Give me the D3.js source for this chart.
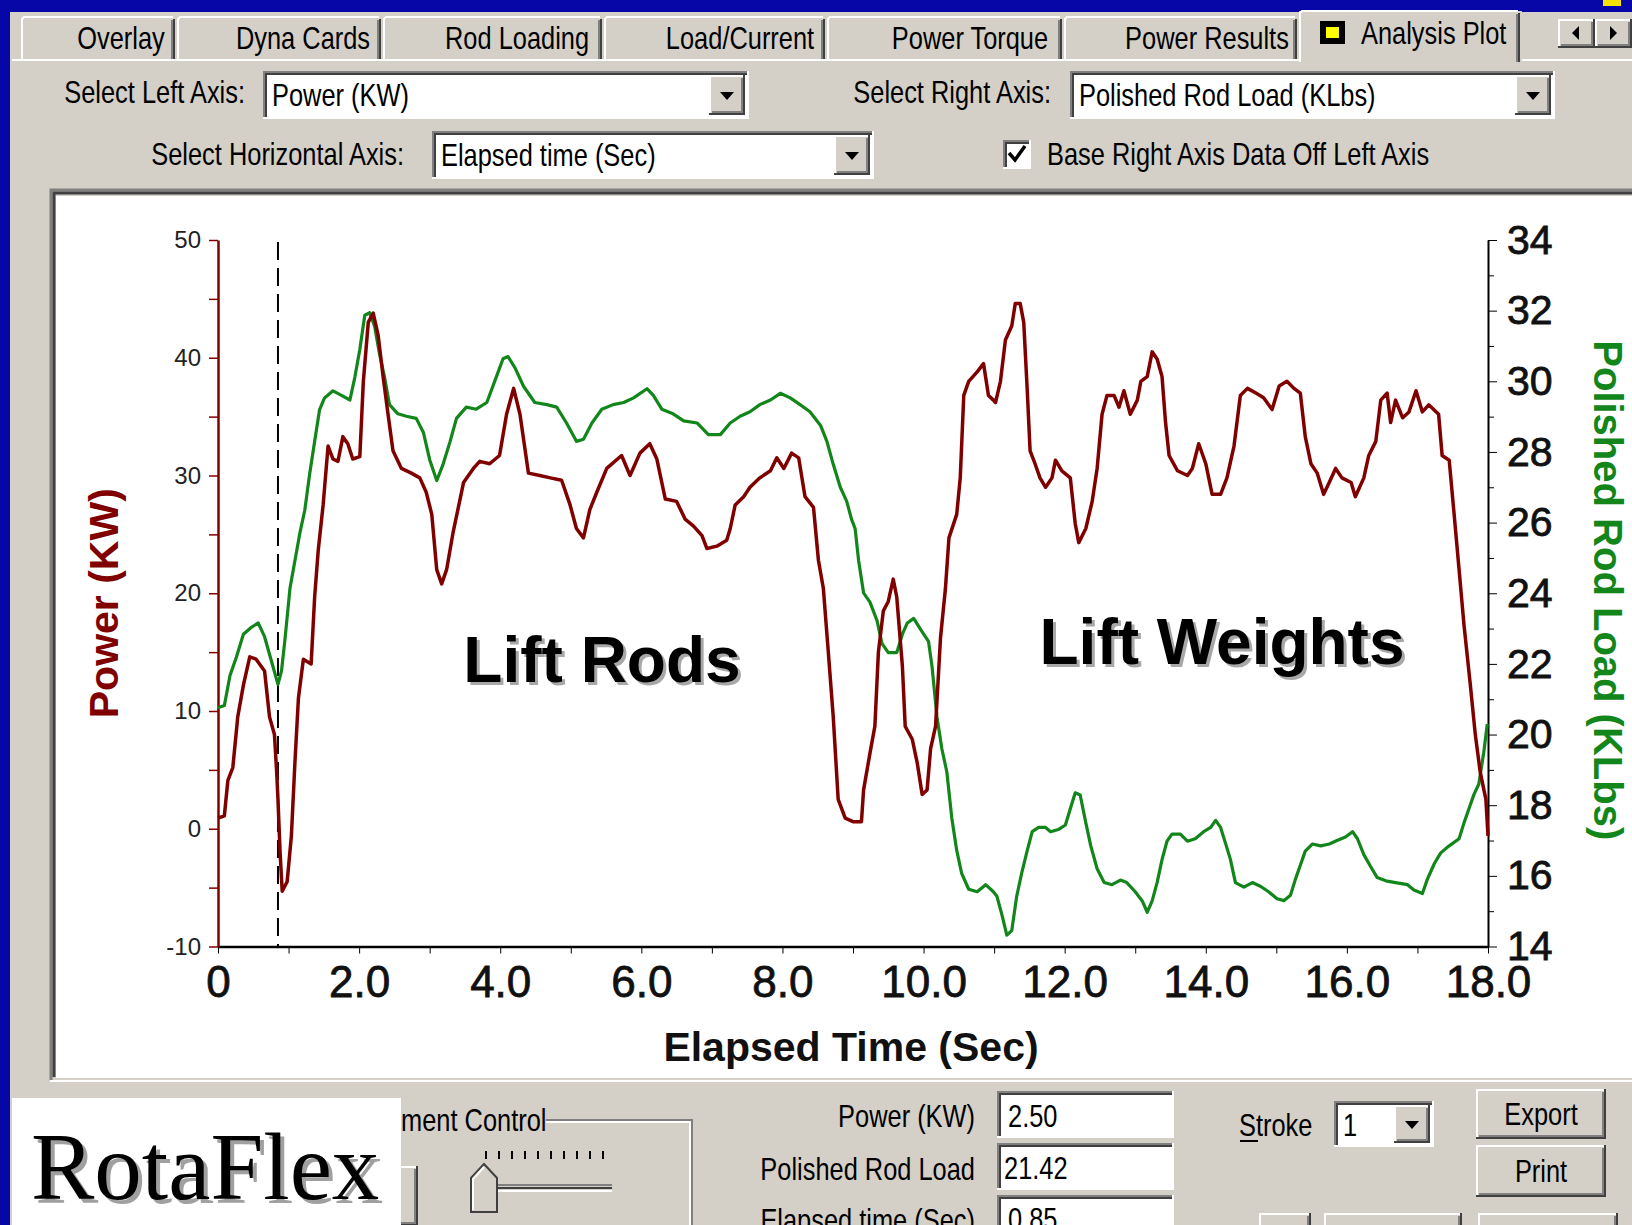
<!DOCTYPE html>
<html>
<head>
<meta charset="utf-8">
<script src="https://cdn.jsdelivr.net/npm/d3@7"></script>
<style>
body { margin: 0; background: #d4d0c8; overflow: hidden; }
</style>
</head>
<body>
<script>
// ---- chart data ----
const powerTime = [0, 0.09, 0.14, 0.21, 0.28, 0.36, 0.45, 0.54, 0.66, 0.73, 0.8, 0.83, 0.85, 0.88, 0.91, 0.98, 1.04, 1.09, 1.14, 1.21, 1.32, 1.37, 1.42, 1.49, 1.56, 1.63, 1.7, 1.77, 1.84, 1.91, 2.01, 2.06, 2.13, 2.2, 2.27, 2.34, 2.41, 2.48, 2.6, 2.74, 2.86, 2.95, 3.03, 3.1, 3.17, 3.24, 3.33, 3.48, 3.62,
    3.71, 3.85, 3.99, 4.09, 4.19, 4.28, 4.4, 4.56, 4.71, 4.87, 4.99, 5.08, 5.18, 5.27, 5.37, 5.51, 5.72, 5.84, 5.98, 6.12, 6.22, 6.34, 6.5, 6.62, 6.74, 6.86, 6.93, 7.07, 7.21, 7.26, 7.33,
    7.45, 7.54, 7.68, 7.83, 7.92, 8.02, 8.13, 8.23, 8.32, 8.44, 8.51, 8.58, 8.65, 8.72, 8.79, 8.89, 9.0, 9.12, 9.15, 9.24, 9.31, 9.36, 9.43, 9.5, 9.57, 9.62, 9.7, 9.74, 9.84, 9.91, 9.98, 10.05, 10.1, 10.17, 10.24, 10.31, 10.36, 10.47, 10.52, 10.57, 10.64, 10.76, 10.85, 10.92, 10.99,
    11.02, 11.09, 11.16, 11.25, 11.3, 11.37, 11.42, 11.47, 11.51, 11.58, 11.65, 11.73, 11.82, 11.87, 11.96, 12.08, 12.15, 12.2, 12.3, 12.39, 12.46, 12.53, 12.6, 12.7, 12.77, 12.84, 12.93, 13.03, 13.08, 13.17, 13.24, 13.31, 13.38, 13.43, 13.48, 13.6, 13.74, 13.81, 13.9, 14.0, 14.09, 14.21, 14.3, 14.4, 14.49,
    14.59, 14.71, 14.82, 14.94, 15.04, 15.15, 15.25, 15.34, 15.41, 15.49, 15.58, 15.67, 15.75, 15.84, 15.93, 16.06, 16.12, 16.24, 16.31, 16.41, 16.48, 16.57, 16.62, 16.69, 16.79, 16.88, 16.98, 17.07, 17.16, 17.3, 17.35, 17.45, 17.52, 17.59, 17.66, 17.75, 17.82, 17.89, 17.97, 18.0];
const powerKW = [0.9, 1.1, 4.1, 5.2, 9.5, 12.2, 14.6, 14.4, 13.4, 9.5, 8, 5, 2.5, -2, -5.3, -4.5, -0.6, 5.6, 11.1, 14.4, 14, 19.7, 23.6, 27.5, 32.5, 31.4, 31.2, 33.3, 32.7, 31.4, 31.6, 38, 43, 43.8, 41.9, 38.4, 35.2, 32.1, 30.6, 30.2, 29.8, 28.6, 26.7, 22, 20.8, 22, 25.1, 29.4, 30.6,
    31.2, 31, 31.7, 35.2, 37.4, 35.2, 30.2, 30, 29.8, 29.6, 27.5, 25.5, 24.7, 27.1, 28.6, 30.6, 31.7, 30, 31.9, 32.7, 31.4, 28, 27.8, 26.3, 25.7, 24.9, 23.8, 24, 24.5, 25.5, 27.5,
    28.2, 29, 29.8, 30.4, 31.5, 30.6, 31.9, 31.5, 28.2, 27.3, 22.8, 20.4, 15, 9.5, 2.5, 0.9, 0.6, 0.6, 3.3, 6.4, 8.7, 15, 18.5, 19.3, 21.2, 19.7, 13.8, 8.7, 7.6, 5.6, 2.9, 3.3, 6.8, 8.7, 16.2, 20.4, 24.7, 26.7, 29.8, 36.8, 38, 38.8, 39.5, 36.8, 36.4,
    36.2, 38, 41.5, 42.7, 44.6, 44.6, 43, 37.2, 32.1, 31, 29.8, 29, 29.8, 31.3, 30.4, 29.8, 25.9, 24.3, 25.5, 27.8, 30.6, 35.2, 36.8, 36.8, 35.8, 37.2, 35.2, 36.4, 38, 38.4, 40.5, 39.9, 38.4, 34.5, 31.7, 30.4, 30, 30.6, 32.7, 31, 28.4, 28.4, 29.8, 32.5, 36.8,
    37.4, 37, 36.6, 35.6, 37.6, 38, 37.4, 37, 33.3, 31, 30.2, 28.4, 29.4, 30.6, 29.8, 29.4, 28.2, 29.8, 31.7, 32.9, 36.4, 37, 34.5, 36.4, 34.9, 35.4, 37.2, 35.4, 36, 35.2, 31.7, 31.3, 26.7, 22, 17.3, 12.2, 8, 4.8, 2.5, -0.6];

const loadTime = [0, 0.09, 0.17, 0.26, 0.36, 0.47, 0.57, 0.66, 0.76, 0.85, 0.9, 0.95, 1.02, 1.09, 1.16, 1.23, 1.3, 1.37, 1.44, 1.51, 1.63, 1.75, 1.87, 1.94, 2.01, 2.08, 2.15, 2.22, 2.29, 2.36, 2.43, 2.55, 2.67, 2.81, 2.91, 3.0, 3.1, 3.19, 3.29, 3.38, 3.52,
    3.66, 3.81, 3.92, 4.04, 4.11, 4.21, 4.33, 4.49, 4.66, 4.8, 4.94, 5.08, 5.18, 5.3, 5.44, 5.6, 5.75, 5.89, 6.08, 6.17, 6.29, 6.45, 6.6, 6.79, 6.95, 7.12, 7.26,
    7.4, 7.54, 7.68, 7.83, 7.97, 8.11, 8.25, 8.39, 8.54, 8.63, 8.72, 8.82, 8.91, 8.98, 9.03, 9.08, 9.15, 9.24, 9.34, 9.41, 9.5, 9.62, 9.7, 9.77, 9.86, 9.96, 10.07, 10.12, 10.19, 10.26, 10.33, 10.4, 10.47, 10.54, 10.64, 10.76, 10.88, 10.99,
    11.04, 11.11, 11.18, 11.25, 11.32, 11.39, 11.47, 11.54, 11.63, 11.73, 11.8, 11.91, 12.01, 12.08, 12.15, 12.22, 12.3, 12.37, 12.46, 12.56, 12.67, 12.79, 12.88, 13.0, 13.1, 13.17, 13.24, 13.31, 13.38, 13.45, 13.52, 13.64, 13.74, 13.85, 13.97, 14.07, 14.14, 14.21, 14.28, 14.35, 14.42, 14.54, 14.66,
    14.78, 14.89, 15.01, 15.11, 15.2, 15.27, 15.34, 15.41, 15.51, 15.63, 15.75, 15.86, 15.98, 16.08, 16.15, 16.24, 16.34, 16.43, 16.57, 16.71, 16.86, 16.95, 17.07, 17.14, 17.24, 17.33, 17.45, 17.59, 17.66, 17.73, 17.8, 17.87, 17.94, 17.99];
const rodLoadKLbs = [20.76, 20.82, 21.67, 22.19, 22.84, 23.03, 23.16, 22.77, 22.06, 21.42, 21.8, 22.71, 24.14, 24.92, 25.7, 26.35, 27.39, 28.3, 29.2, 29.53, 29.73, 29.6, 29.47, 30.12, 30.9, 31.87, 31.94, 31.55, 30.77, 30.12, 29.34, 29.08, 29.01, 28.95, 28.56, 27.78, 27.19, 27.65, 28.3, 28.95, 29.27,
    29.21, 29.4, 29.99, 30.64, 30.7, 30.38, 29.86, 29.4, 29.34, 29.27, 28.82, 28.3, 28.36, 28.82, 29.21, 29.34, 29.4, 29.53, 29.79, 29.6, 29.21, 29.08, 28.88, 28.82, 28.49, 28.49, 28.82,
    29.01, 29.14, 29.34, 29.47, 29.66, 29.53, 29.34, 29.14, 28.75, 28.3, 27.65, 27.0, 26.61, 26.09, 25.83, 24.92, 24.01, 23.75, 23.23, 22.58, 22.32, 22.32, 22.84, 23.16, 23.29, 22.97, 22.64, 21.93, 20.5, 19.59, 18.94, 17.64, 16.72, 16.07, 15.62, 15.55, 15.75, 15.55,
    15.42, 14.9, 14.32, 14.45, 15.42, 16.07, 16.72, 17.25, 17.37, 17.37, 17.25, 17.31, 17.44, 17.9, 18.35, 18.29, 17.5, 16.85, 16.2, 15.81, 15.75, 15.88, 15.81, 15.55, 15.29, 14.97, 15.29, 15.81, 16.46, 16.98, 17.18, 17.18, 16.98, 17.05, 17.25, 17.37, 17.57, 17.37, 16.92, 16.46, 15.81, 15.68, 15.81,
    15.7, 15.55, 15.35, 15.3, 15.45, 15.9, 16.3, 16.7, 16.9, 16.85, 16.9, 17.0, 17.1, 17.25, 17.05, 16.6, 16.25, 15.95, 15.85, 15.8, 15.75, 15.6, 15.5, 15.9, 16.35, 16.65, 16.85, 17.05, 17.5, 17.9, 18.3, 18.6, 19.5, 20.3];

const xTicks = [0, 2, 4, 6, 8, 10, 12, 14, 16, 18];
const xTickLabels = ['0', '2.0', '4.0', '6.0', '8.0', '10.0', '12.0', '14.0', '16.0', '18.0'];
const xMinorTicks = [1, 3, 5, 7, 9, 11, 13, 15, 17];
const leftTicks = [-10, 0, 10, 20, 30, 40, 50];
const leftMinorTicks = [-5, 5, 15, 25, 35, 45];
const rightTicks = [14, 16, 18, 20, 22, 24, 26, 28, 30, 32, 34];
const rightMinorTicks = [15, 17, 19, 21, 23, 25, 27, 29, 31, 33];
const cursorTime = 0.85;

const tabNames = ['Overlay', 'Dyna Cards', 'Rod Loading', 'Load/Current', 'Power Torque', 'Power Results', 'Analysis Plot'];

const W = 1632, H = 1225;
const FACE = '#d4d0c8';
const RED = '#800000', GREEN = '#12861a';

const svg = d3.select('body').append('svg')
    .attr('width', W)
    .attr('height', H)
    .style('display', 'block');

// blue slide background, then the grey dialog
svg.append('rect').attr('width', W).attr('height', H).attr('fill', '#0707a8');
svg.append('rect').attr('x', 10).attr('y', 12).attr('width', W - 10).attr('height', H - 12).attr('fill', FACE);
svg.append('rect').attr('x', 1603).attr('y', 0).attr('width', 18).attr('height', 6).attr('fill', '#f4e400');

// ---- helpers for the windows chrome ----
function uiText(g, x, y, str, anchor, size) {
    return g.append('text')
        .attr('transform', `translate(${x},${y}) scale(0.82,1)`)
        .attr('text-anchor', anchor || 'start')
        .attr('font-family', 'Liberation Sans, Arial, sans-serif')
        .attr('font-size', size || 31)
        .attr('fill', '#000')
        .text(str);
}

function line(g, d, color, w) {
    g.append('path').attr('d', d).attr('fill', 'none').attr('stroke', color).attr('stroke-width', w || 2);
}

function sunken(g, x, y, w, h, fill) {
    g.append('rect').attr('x', x).attr('y', y).attr('width', w).attr('height', h).attr('fill', fill || '#fff');
    line(g, `M${x + 1},${y + h}V${y + 1}H${x + w}`, '#808080');
    line(g, `M${x + 3},${y + h - 2}V${y + 3}H${x + w - 2}`, '#404040');
    line(g, `M${x},${y + h - 1}H${x + w - 1}V${y}`, '#ffffff');
}

function raised(g, x, y, w, h) {
    g.append('rect').attr('x', x).attr('y', y).attr('width', w).attr('height', h).attr('fill', FACE);
    line(g, `M${x + 1},${y + h - 1}V${y + 1}H${x + w - 1}`, '#ffffff');
    line(g, `M${x},${y + h - 1}H${x + w - 1}V${y}`, '#404040');
    line(g, `M${x + 3},${y + h - 3}H${x + w - 3}V${y + 3}`, '#808080');
}

function dropButton(g, x, y, w, h) {
    raised(g, x, y, w, h);
    const cx = x + w / 2, cy = y + h / 2;
    g.append('path').attr('d', `M${cx - 7},${cy - 3}H${cx + 7}L${cx},${cy + 5}Z`).attr('fill', '#000');
}

function combo(g, x, y, w, h, str) {
    sunken(g, x, y, w, h);
    uiText(g, x + 9, y + h / 2 + 11, str);
    dropButton(g, x + w - 40, y + 4, 36, h - 8);
}

const ui = svg.append('g');

// ---- tab strip ----
const tabEdges = [21, 177, 383, 604, 827, 1064, 1299, 1522];
const tabCenters = [121, 303, 517, 740, 970, 1207];
line(ui, `M12,60H1299`, '#ffffff');
line(ui, `M1522,60H1632`, '#ffffff');
tabNames.forEach((name, i) => {
    const x0 = tabEdges[i], x1 = tabEdges[i + 1];
    const active = i === tabNames.length - 1;
    const top = active ? 11 : 17;
    const bottom = active ? 62 : 59;
    if (active) {
        ui.append('rect').attr('x', x0).attr('y', top).attr('width', x1 - x0).attr('height', bottom - top).attr('fill', FACE);
    }
    line(ui, `M${x0 + 1},${bottom}V${top + 2}L${x0 + 3},${top}H${x1 - 4}`, '#ffffff');
    line(ui, `M${x1 - 3},${top + 2}V${bottom}`, '#404040');
    line(ui, `M${x1 - 5},${top + 3}V${bottom}`, '#808080');
    if (active) {
        ui.append('rect').attr('x', 1320).attr('y', 21).attr('width', 25).attr('height', 23).attr('fill', '#000');
        ui.append('rect').attr('x', 1326).attr('y', 27).attr('width', 13).attr('height', 11).attr('fill', '#ffff00');
        uiText(ui, 1361, 44, name);
    } else {
        uiText(ui, tabCenters[i], 49, name, 'middle');
    }
});
[[1558, 'l'], [1595, 'r']].forEach(([bx, dir]) => {
    raised(ui, bx, 19, 37, 29);
    const cx = bx + 18, cy = 33;
    ui.append('path')
        .attr('d', dir === 'l' ? `M${cx + 3},${cy - 7}V${cy + 7}L${cx - 4},${cy}Z` : `M${cx - 3},${cy - 7}V${cy + 7}L${cx + 4},${cy}Z`)
        .attr('fill', '#000');
});

// ---- selector rows ----
uiText(ui, 245, 103, 'Select Left Axis:', 'end');
combo(ui, 263, 71, 486, 48, 'Power (KW)');
uiText(ui, 1051, 103, 'Select Right Axis:', 'end');
combo(ui, 1070, 71, 485, 48, 'Polished Rod Load (KLbs)');
uiText(ui, 404, 165, 'Select Horizontal Axis:', 'end');
combo(ui, 432, 131, 442, 48, 'Elapsed time (Sec)');
sunken(ui, 1003, 140, 28, 29);
ui.append('path').attr('d', 'M1009,153L1015,160L1025,146').attr('fill', 'none').attr('stroke', '#000').attr('stroke-width', 3.5);
uiText(ui, 1047, 165, 'Base Right Axis Data Off Left Axis');

// ---- chart panel ----
ui.append('rect').attr('x', 56).attr('y', 196).attr('width', W - 56).attr('height', 882).attr('fill', '#ffffff');
line(ui, `M51,1080V190H${W}`, '#808080', 3);
line(ui, `M54,1077V193H${W}`, '#404040', 3);
line(ui, `M50,1081H${W}`, '#ffffff', 2);

// ---- scales and axes ----
const x = d3.scaleLinear().domain([0, 18]).range([218, 1488]);
const y = d3.scaleLinear().domain([-10, 50]).range([946.5, 240]);
const yR = d3.scaleLinear().domain([14, 34]).range([946.5, 240]);

const plot = svg.append('g');

const gxMinor = plot.append('g')
    .attr('transform', `translate(0,${y(-10)})`)
    .call(d3.axisBottom(x).tickValues(xMinorTicks).tickFormat('').tickSize(7).tickSizeOuter(0));
gxMinor.select('.domain').remove();

const gx = plot.append('g')
    .attr('transform', `translate(0,${y(-10)})`)
    .call(d3.axisBottom(x).tickValues(xTicks).tickFormat((d, i) => xTickLabels[i]).tickSize(7).tickSizeOuter(0).tickPadding(12));
gx.select('.domain').attr('stroke', '#000').attr('stroke-width', 2.5);
gx.selectAll('text')
    .attr('font-family', 'Liberation Sans, Arial, sans-serif')
    .attr('font-size', 44)
    .attr('fill', '#111')
    .attr('stroke', '#111')
    .attr('stroke-width', 0.8);

const gyMinor = plot.append('g')
    .attr('transform', `translate(${x(0)},0)`)
    .call(d3.axisLeft(y).tickValues(leftMinorTicks).tickFormat('').tickSize(9).tickSizeOuter(0));
gyMinor.select('.domain').remove();
gyMinor.selectAll('line').attr('stroke', RED).attr('stroke-width', 1.5);

const gy = plot.append('g')
    .attr('transform', `translate(${x(0)},0)`)
    .call(d3.axisLeft(y).tickValues(leftTicks).tickFormat(d => String(d)).tickSize(9).tickSizeOuter(0).tickPadding(8));
gy.select('.domain').attr('stroke', RED).attr('stroke-width', 2.5);
gy.selectAll('line').attr('stroke', RED).attr('stroke-width', 1.5);
gy.selectAll('text')
    .attr('font-family', 'Liberation Sans, Arial, sans-serif')
    .attr('font-size', 24)
    .attr('fill', '#222');

const grMinor = plot.append('g')
    .attr('transform', `translate(${x(18)},0)`)
    .call(d3.axisRight(yR).tickValues(rightMinorTicks).tickFormat('').tickSize(6).tickSizeOuter(0));
grMinor.select('.domain').remove();

const gr = plot.append('g')
    .attr('transform', `translate(${x(18)},0)`)
    .call(d3.axisRight(yR).tickValues(rightTicks).tickSize(9).tickSizeOuter(0).tickPadding(10));
gr.select('.domain').attr('stroke', '#000').attr('stroke-width', 2);
gr.selectAll('text')
    .attr('font-family', 'Liberation Sans, Arial, sans-serif')
    .attr('font-size', 41)
    .attr('fill', '#111')
    .attr('stroke', '#111')
    .attr('stroke-width', 0.8);

// cursor line
plot.append('line')
    .attr('x1', x(cursorTime)).attr('x2', x(cursorTime))
    .attr('y1', y(50) + 2).attr('y2', y(-10))
    .attr('stroke', '#000')
    .attr('stroke-width', 2)
    .attr('stroke-dasharray', '18,8');

// series
const powerLine = d3.line()
    .x((d, i) => x(powerTime[i]))
    .y(d => y(d));
const loadLine = d3.line()
    .x((d, i) => x(loadTime[i]))
    .y(d => yR(d));

plot.append('path')
    .datum(rodLoadKLbs)
    .attr('d', loadLine)
    .attr('fill', 'none')
    .attr('stroke', GREEN)
    .attr('stroke-width', 3.2)
    .attr('stroke-linejoin', 'round');

plot.append('path')
    .datum(powerKW)
    .attr('d', powerLine)
    .attr('fill', 'none')
    .attr('stroke', RED)
    .attr('stroke-width', 3.5)
    .attr('stroke-linejoin', 'round');

// axis titles
plot.append('text')
    .attr('transform', `translate(118,${(y(50) + y(-10)) / 2 + 10}) rotate(-90)`)
    .attr('text-anchor', 'middle')
    .attr('font-family', 'Liberation Sans, Arial, sans-serif')
    .attr('font-weight', 'bold')
    .attr('font-size', 41)
    .attr('fill', RED)
    .text('Power (KW)');

plot.append('text')
    .attr('transform', `translate(1594,${(y(50) + y(-10)) / 2 - 3}) rotate(90)`)
    .attr('text-anchor', 'middle')
    .attr('font-family', 'Liberation Sans, Arial, sans-serif')
    .attr('font-weight', 'bold')
    .attr('font-size', 40)
    .attr('fill', GREEN)
    .text('Polished Rod Load (KLbs)');

plot.append('text')
    .attr('x', 851)
    .attr('y', 1061)
    .attr('text-anchor', 'middle')
    .attr('font-family', 'Liberation Sans, Arial, sans-serif')
    .attr('font-weight', 'bold')
    .attr('font-size', 41)
    .attr('fill', '#111')
    .text('Elapsed Time (Sec)');

// annotations with drop shadow
[['Lift Rods', 602, 682], ['Lift Weights', 1222, 664]].forEach(([label, cx, by]) => {
    [['#a8a8a8', 3], ['#000', 0]].forEach(([fill, off]) => {
        plot.append('text')
            .attr('x', cx + off)
            .attr('y', by + off)
            .attr('text-anchor', 'middle')
            .attr('font-family', 'Liberation Sans, Arial, sans-serif')
            .attr('font-weight', 'bold')
            .attr('font-size', 64)
            .attr('fill', fill)
            .text(label);
    });
});

// ---- bottom controls ----
const bot = svg.append('g');

// group box
uiText(bot, 401, 1131, 'ment Control');
line(bot, 'M546,1120H692V1225', '#808080');
line(bot, 'M546,1122H690V1225', '#ffffff');
raised(bot, 380, 1166, 38, 60);
d3.range(10).forEach(i => {
    line(bot, `M${486 + i * 13},1151V1159`, '#000', 2);
});
line(bot, 'M484,1185H612', '#808080', 2);
line(bot, 'M484,1188H612', '#404040', 2);
line(bot, 'M484,1191H612', '#ffffff', 2);
bot.append('path').attr('d', 'M471,1212V1178L484,1164L497,1178V1212Z').attr('fill', FACE).attr('stroke', '#404040').attr('stroke-width', 2);
line(bot, 'M473,1210V1179L484,1167', '#ffffff', 2);

uiText(bot, 975, 1127, 'Power (KW)', 'end');
sunken(bot, 997, 1091, 177, 47);
uiText(bot, 1008, 1127, '2.50');
uiText(bot, 975, 1180, 'Polished Rod Load', 'end');
sunken(bot, 997, 1143, 177, 47);
uiText(bot, 1004, 1179, '21.42');
uiText(bot, 975, 1231, 'Elapsed time (Sec)', 'end');
sunken(bot, 997, 1195, 177, 47);
uiText(bot, 1008, 1230, '0.85');

uiText(bot, 1239, 1136, 'Stroke');
line(bot, 'M1240,1141H1258', '#000', 2);
sunken(bot, 1334, 1101, 100, 46);
uiText(bot, 1343, 1136, '1');
dropButton(bot, 1394, 1105, 36, 38);

raised(bot, 1476, 1089, 130, 50);
uiText(bot, 1541, 1125, 'Export', 'middle');
raised(bot, 1476, 1145, 130, 52);
uiText(bot, 1541, 1182, 'Print', 'middle');
raised(bot, 1259, 1213, 52, 40);
raised(bot, 1324, 1213, 138, 40);
raised(bot, 1478, 1213, 140, 40);

// logo box
bot.append('rect').attr('x', 12).attr('y', 1098).attr('width', 389).attr('height', 127).attr('fill', '#ffffff');
[['#a0a0a0', 4], ['#000', 0]].forEach(([fill, off]) => {
    bot.append('text')
        .attr('x', 31 + off)
        .attr('y', 1199 + off)
        .attr('font-family', 'Liberation Serif, Times New Roman, serif')
        .attr('font-size', 95)
        .attr('fill', fill)
        .text('RotaFlex');
});
</script>
</body>
</html>
